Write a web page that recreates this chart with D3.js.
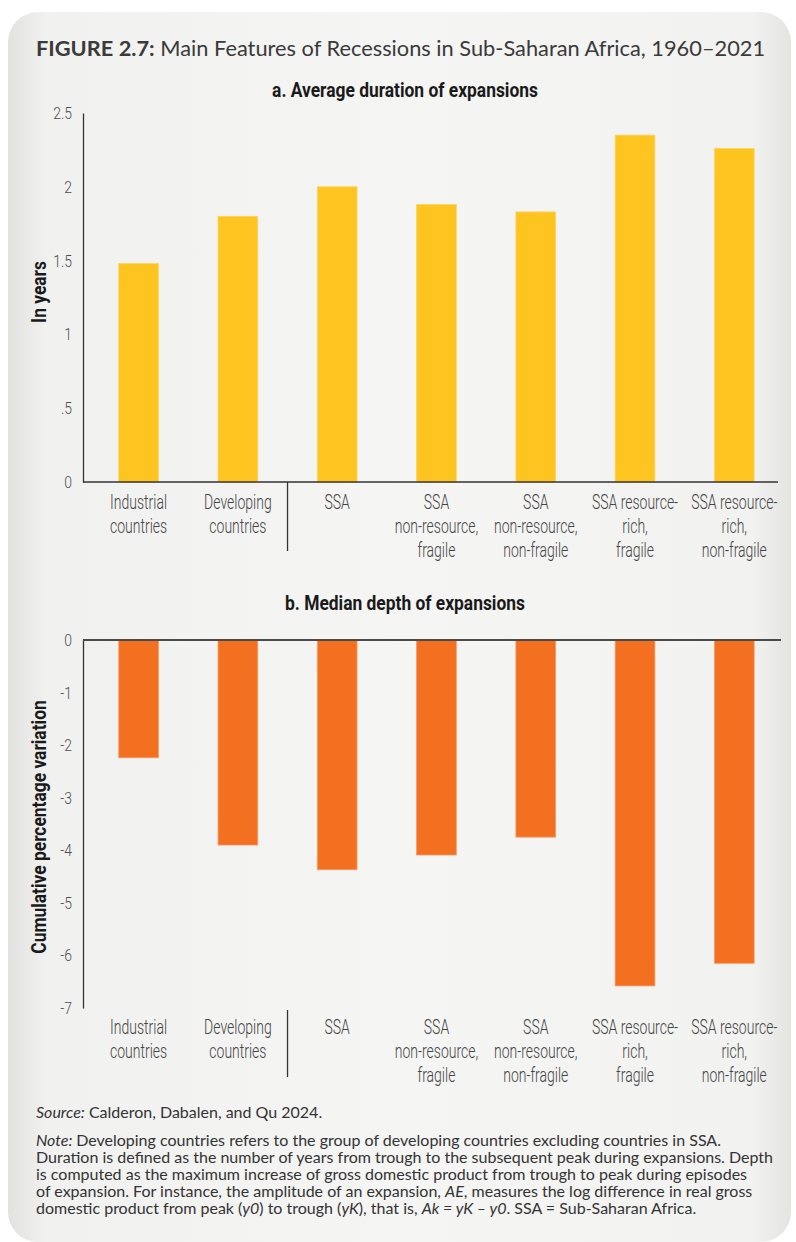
<!DOCTYPE html>
<html lang="en">
<head>
    <meta charset="UTF-8">
    <title>Figure 2.7</title>
    <script src="https://d3js.org/d3.v7.min.js"></script>
    <style>
        body { margin: 0; background: #fff; }
        .tick-lbl { font-family: Roboto, sans-serif; font-size: 17px; fill: #4d4d4d; font-weight: 300; }
        .cat-lbl { font-family: Roboto, sans-serif; font-size: 20px; fill: #444; font-weight: 300; }
        .ttl { font-family: Roboto, sans-serif; font-size: 20px; font-weight: bold; fill: #1a1a1a; }
        .note { font-family: Lato, "Open Sans", sans-serif; font-size: 16px; fill: #333; }
    </style>
</head>
<body>
<svg></svg>
<script>
    // chart values
    var categories = ["Industrial countries", "Developing countries", "SSA",
        "SSA non-resource, fragile", "SSA non-resource, non-fragile",
        "SSA resource-rich, fragile", "SSA resource-rich, non-fragile"];
    var categoryLines = [["Industrial", "countries"], ["Developing", "countries"], ["SSA"],
        ["SSA", "non-resource,", "fragile"], ["SSA", "non-resource,", "non-fragile"],
        ["SSA resource-", "rich,", "fragile"], ["SSA resource-", "rich,", "non-fragile"]];
    var durationYears = [1.48, 1.80, 2.00, 1.88, 1.83, 2.35, 2.26];
    var depthPct = [-2.24, -3.90, -4.37, -4.09, -3.75, -6.58, -6.15];
    var durationTicks = [0, 0.5, 1, 1.5, 2, 2.5];
    var durationTickLabels = ["0", ".5", "1", "1.5", "2", "2.5"];
    var depthTicks = [0, -1, -2, -3, -4, -5, -6, -7];
    var depthTickLabels = ["0", "-1", "-2", "-3", "-4", "-5", "-6", "-7"];

    var titleBold = "FIGURE 2.7:";
    var titleText = " Main Features of Recessions in Sub-Saharan Africa, 1960\u20132021";
    var subtitleA = "a. Average duration of expansions";
    var subtitleB = "b. Median depth of expansions";
    var yTitleA = "In years";
    var yTitleB = "Cumulative percentage variation";
    var sourceText = "Calderon, Dabalen, and Qu 2024.";
    var noteLines = [
        "Developing countries refers to the group of developing countries excluding countries in SSA.",
        "Duration is defined as the number of years from trough to the subsequent peak during expansions. Depth",
        "is computed as the maximum increase of gross domestic product from trough to peak during episodes",
        "of expansion. For instance, the amplitude of an expansion, |AE|, measures the log difference in real gross",
        "domestic product from peak (|y0|) to trough (|yK|), that is, |Ak = yK \u2013 y0|. SSA = Sub-Saharan Africa."
    ];

    var w = 796, h = 1242;
    var left = 83, right = 778;
    var yellow = "#fec520", orange = "#f37021";
    var squeeze = 0.7;      // narrow look of the label face
    var tickSqueeze = 0.82;
    var titleSqueeze = 0.87;

    var svg = d3.select("svg").attr("width", w).attr("height", h);

    // panel background
    var defs = svg.append("defs");
    var grad = defs.append("linearGradient").attr("id", "bg").attr("x1", 0).attr("x2", 1).attr("y1", 0).attr("y2", 0);
    [[0, "#e2e3e1"], [0.05, "#f1f1f0"], [0.5, "#f5f5f4"], [0.95, "#f2f2f1"], [1, "#e4e4e2"]].forEach(function(s) {
        grad.append("stop").attr("offset", s[0]).attr("stop-color", s[1]);
    });
    svg.append("rect").attr("x", 8).attr("y", 12).attr("width", 783).attr("height", 1230)
        .attr("rx", 30).attr("fill", "url(#bg)");

    // title
    var t = svg.append("text").attr("x", 36).attr("y", 56)
        .style("font-family", "Lato, 'Open Sans', sans-serif").style("font-size", "21.8px").style("fill", "#3a3a3a");
    t.append("tspan").attr("font-weight", "bold").text(titleBold);
    t.append("tspan").text(titleText);

    var x = d3.scaleBand().domain(categories).range([left, right])
        .paddingInner(0.6).paddingOuter(0.3).align(0.6);

    function catLabels(g, yTop, sepTop, sepBottom) {
        var sx = (x(categories[1]) + x.bandwidth() + x(categories[2])) / 2;
        g.append("line").attr("x1", sx).attr("x2", sx).attr("y1", sepTop).attr("y2", sepBottom)
            .attr("stroke", "#333").attr("stroke-width", 1.3);
        categories.forEach(function(c, i) {
            var cx = x(c) + x.bandwidth() / 2;
            var txt = g.append("text").attr("class", "cat-lbl")
                .attr("text-anchor", "middle")
                .attr("transform", "translate(" + cx + "," + yTop + ") scale(" + squeeze + ",1)");
            categoryLines[i].forEach(function(line, j) {
                txt.append("tspan").attr("x", 0).attr("dy", j === 0 ? 0 : 24).text(line);
            });
        });
    }

    function heading(text, cx, cy) {
        svg.append("text").attr("class", "ttl").attr("text-anchor", "middle")
            .attr("transform", "translate(" + cx + "," + cy + ") scale(" + titleSqueeze + ",1)").text(text);
    }

    function yTitle(text, cy) {
        svg.append("text").attr("class", "ttl").attr("text-anchor", "middle")
            .attr("transform", "translate(46," + cy + ") rotate(-90) scale(" + titleSqueeze + ",1)").text(text);
    }

    function styleTicks(ax) {
        ax.select(".domain").attr("stroke", "#333").attr("stroke-width", 1.3);
        ax.selectAll(".tick text")
            .attr("class", "tick-lbl").attr("font-size", null).attr("font-family", null)
            .attr("x", 0).attr("transform", "translate(-11,0) scale(" + tickSqueeze + ",1)");
    }

    // ---- panel a ----
    heading(subtitleA, 405, 97);

    var yA = d3.scaleLinear().domain([0, 2.5]).range([482, 113]);

    svg.selectAll(".barA").data(durationYears).enter().append("rect")
        .attr("class", "barA")
        .attr("x", function(d, i) { return x(categories[i]); })
        .attr("y", function(d) { return yA(d); })
        .attr("width", x.bandwidth())
        .attr("height", function(d) { return yA(0) - yA(d); })
        .attr("fill", yellow).attr("stroke", "#fdd55f").attr("stroke-width", 0.8);

    var axA = svg.append("g").attr("transform", "translate(" + left + ",0)")
        .call(d3.axisLeft(yA).tickValues(durationTicks).tickSize(0)
            .tickFormat(function(d, i) { return durationTickLabels[i]; }));
    styleTicks(axA);

    svg.append("line").attr("x1", left).attr("x2", right).attr("y1", yA(0)).attr("y2", yA(0))
        .attr("stroke", "#333").attr("stroke-width", 1.3);

    catLabels(svg.append("g"), 509, 482, 551);
    yTitle(yTitleA, 292);

    // ---- panel b ----
    heading(subtitleB, 405, 610);

    var yB = d3.scaleLinear().domain([-7, 0]).range([1008, 640]);

    svg.selectAll(".barB").data(depthPct).enter().append("rect")
        .attr("class", "barB")
        .attr("x", function(d, i) { return x(categories[i]); })
        .attr("y", yB(0))
        .attr("width", x.bandwidth())
        .attr("height", function(d) { return yB(d) - yB(0); })
        .attr("fill", orange).attr("stroke", "#f69a63").attr("stroke-width", 0.8);

    var axB = svg.append("g").attr("transform", "translate(" + left + ",0)")
        .call(d3.axisLeft(yB).tickValues(depthTicks).tickSize(0)
            .tickFormat(function(d, i) { return depthTickLabels[i]; }));
    styleTicks(axB);

    svg.append("line").attr("x1", left).attr("x2", right + 3).attr("y1", yB(0)).attr("y2", yB(0))
        .attr("stroke", "#4a4a4a").attr("stroke-width", 2);

    catLabels(svg.append("g"), 1034, 1010, 1077);
    yTitle(yTitleB, 827);

    // ---- notes ----
    var src = svg.append("text").attr("class", "note").attr("x", 36).attr("y", 1118);
    src.append("tspan").attr("font-style", "italic").text("Source:");
    src.append("tspan").text(" " + sourceText);

    noteLines.forEach(function(line, i) {
        var nt = svg.append("text").attr("class", "note").attr("x", 36).attr("y", 1146 + i * 17);
        if (i === 0) nt.append("tspan").attr("font-style", "italic").text("Note: ");
        // pieces between | | are italic
        line.split("|").forEach(function(part, k) {
            nt.append("tspan").attr("font-style", k % 2 ? "italic" : null).text(part);
        });
    });
</script>
</body>
</html>
